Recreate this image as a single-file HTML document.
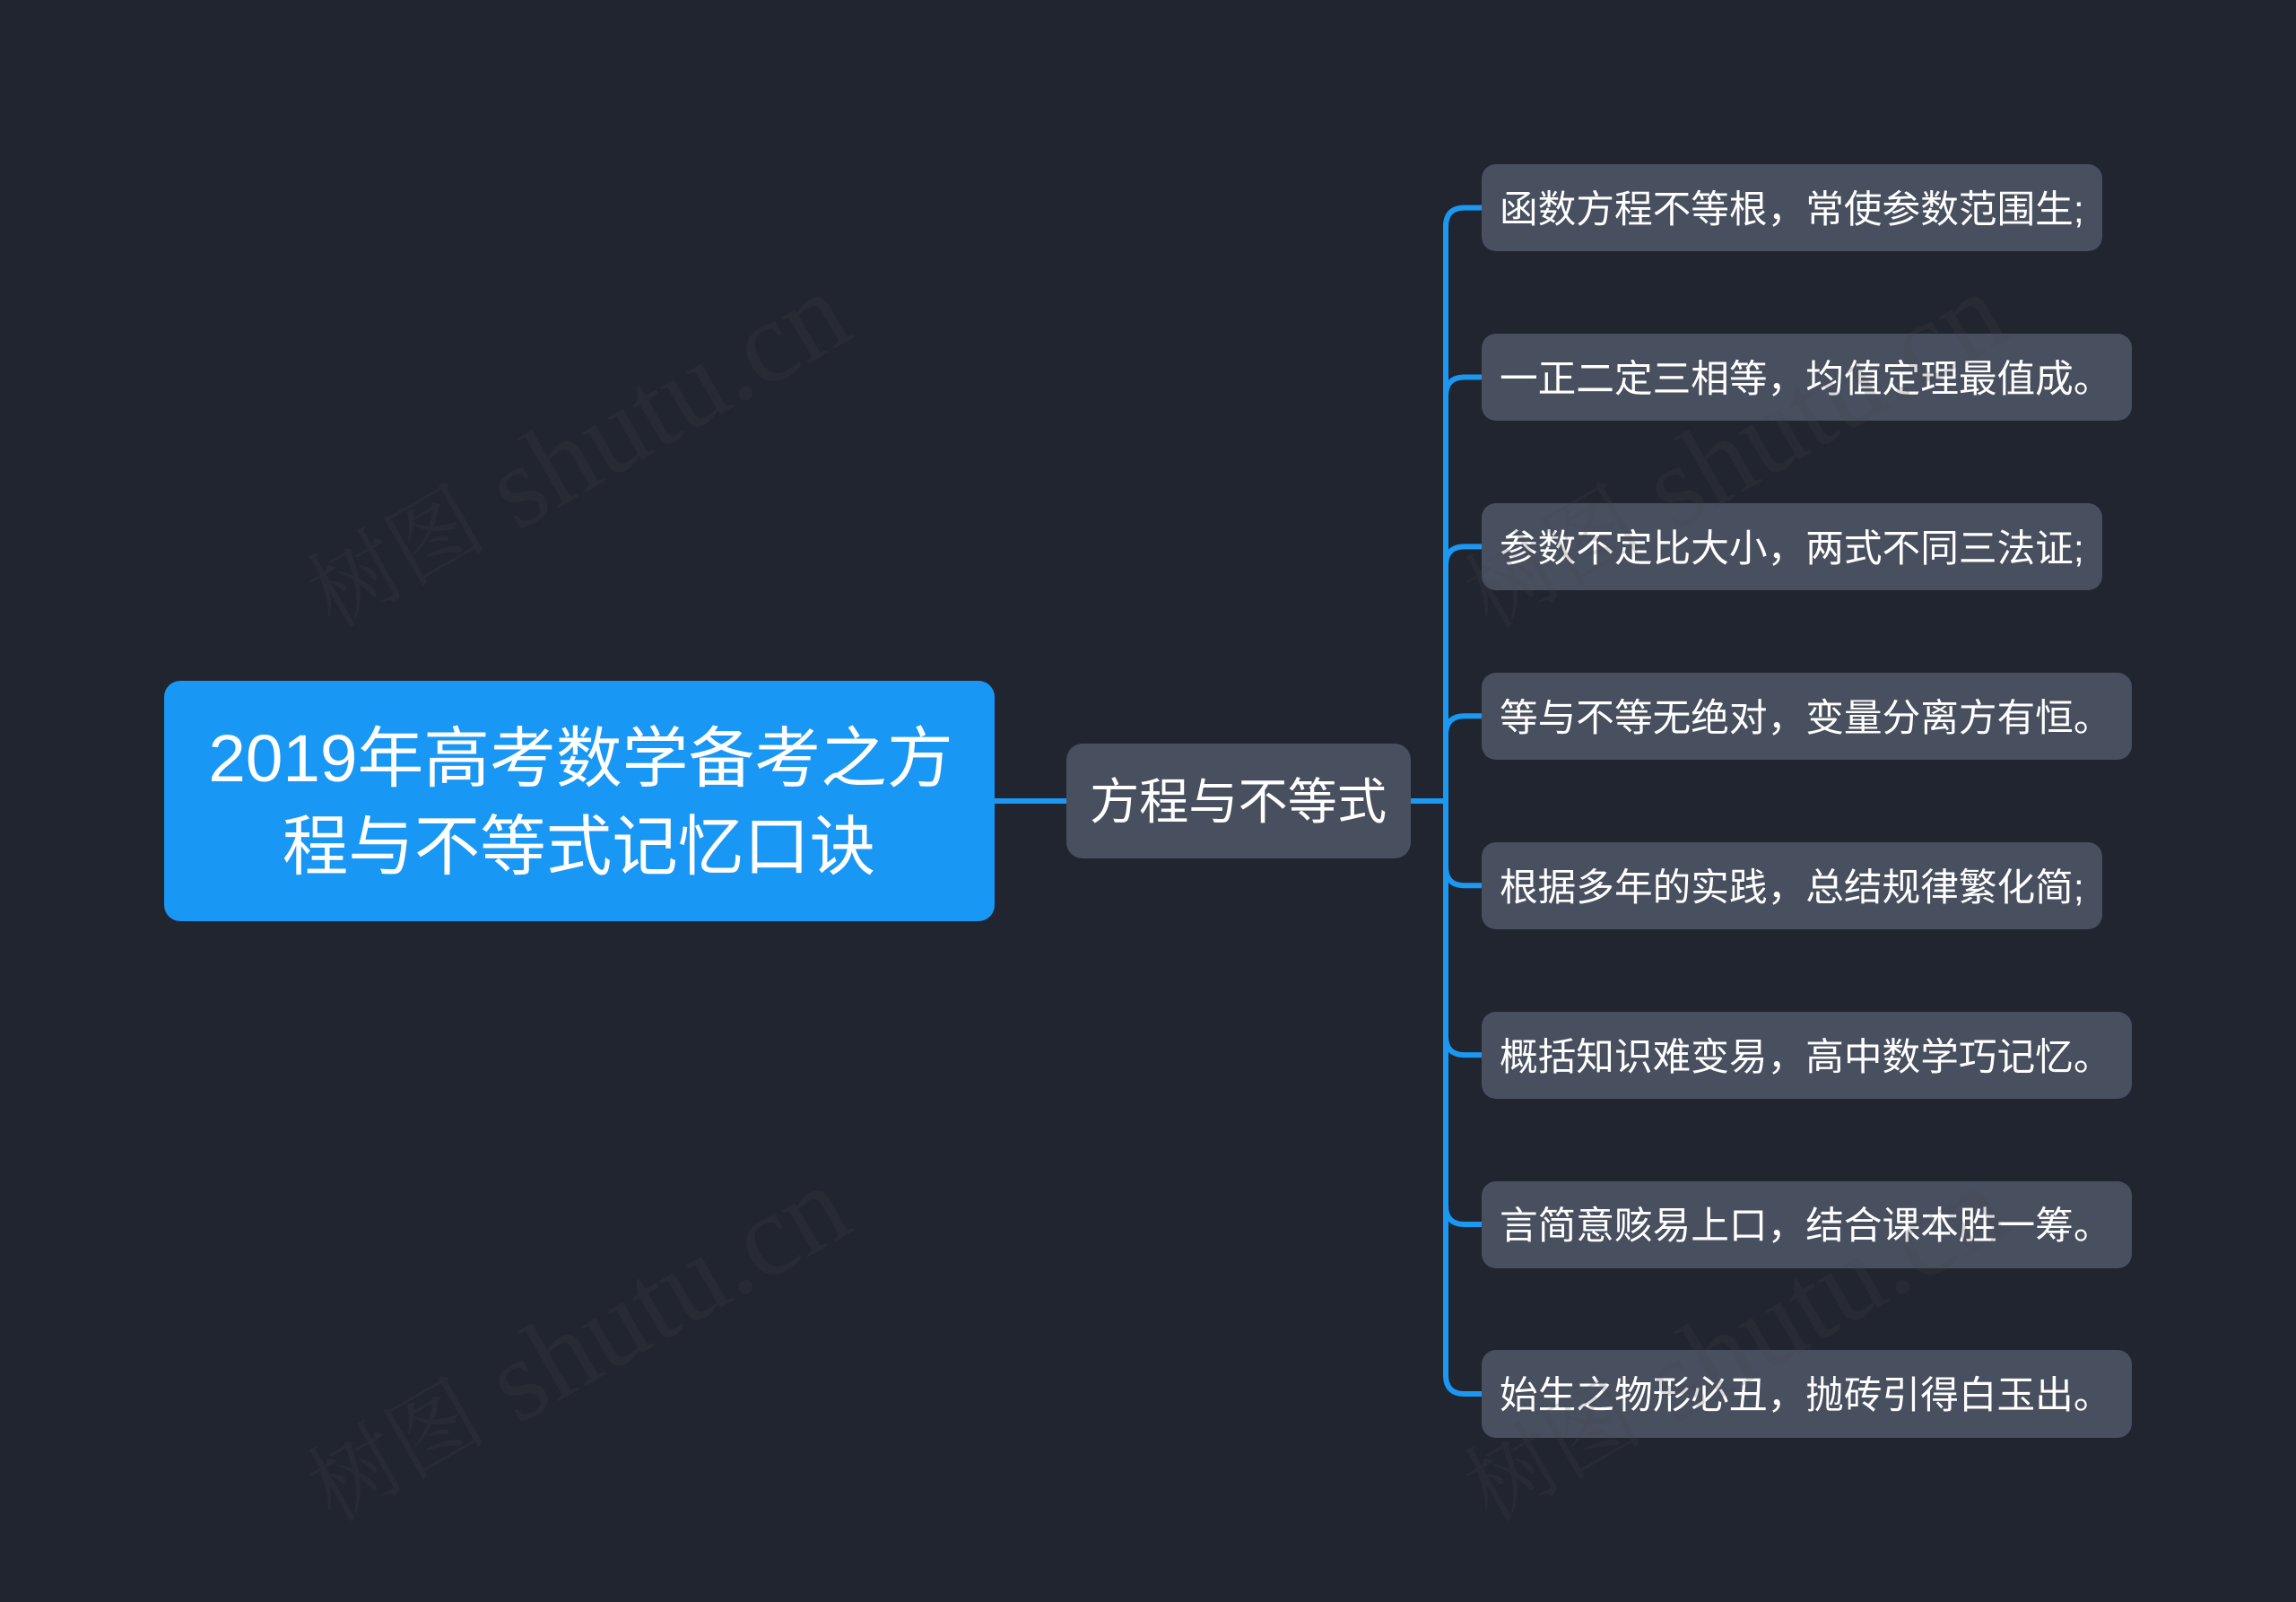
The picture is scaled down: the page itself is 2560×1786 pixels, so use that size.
<!DOCTYPE html>
<html><head><meta charset="utf-8"><style>
html,body{margin:0;padding:0;background:#212530;width:2560px;height:1786px;overflow:hidden}
svg{display:block}
text{font-family:"Liberation Sans","Noto Sans CJK SC",sans-serif;fill:#fff}
.c{font-size:42.67px}
.wm{font-family:"Liberation Serif","Noto Serif CJK SC",serif;fill:#474747;fill-opacity:.2}
</style></head><body>
<svg width="2560" height="1786" viewBox="0 0 2560 1786" xmlns="http://www.w3.org/2000/svg">
<rect width="2560" height="1786" fill="#212530"/>
<g fill="none" stroke="#1a98f2" stroke-width="6">
<path d="M1109 893H1189"/>
<path d="M1573 893H1612"/>
<path d="M1652 231.6H1633Q1612 231.6 1612 252.6V1533Q1612 1554 1633 1554H1652"/>
<path d="M1652 420.5H1633Q1612 420.5 1612 441.5"/>
<path d="M1652 609.4H1633Q1612 609.4 1612 630.4"/>
<path d="M1652 798.3H1633Q1612 798.3 1612 819.3"/>
<path d="M1652 987.2H1633Q1612 987.2 1612 966.2"/>
<path d="M1652 1176.1H1633Q1612 1176.1 1612 1155.1"/>
<path d="M1652 1365H1633Q1612 1365 1612 1344"/>
</g>
<rect x="183" y="759" width="926" height="268" rx="18" fill="#1997f4"/>
<text x="647.5" y="871" text-anchor="middle"><tspan font-size="74.67">2019</tspan><tspan font-size="73.8">年高考数学备考之方</tspan></text>
<text x="645.5" y="969" font-size="73.5" text-anchor="middle">程与不等式记忆口诀</text>
<rect x="1189" y="829" width="384" height="128" rx="18" fill="#484f5f"/>
<text x="1380.5" y="913" font-size="55.2" text-anchor="middle">方程与不等式</text>
<g fill="#484f5f">
<rect x="1652" y="183" width="692" height="97" rx="16"/>
<rect x="1652" y="372" width="725" height="97" rx="16"/>
<rect x="1652" y="561" width="692" height="97" rx="16"/>
<rect x="1652" y="750" width="725" height="97" rx="16"/>
<rect x="1652" y="939" width="692" height="97" rx="16"/>
<rect x="1652" y="1128" width="725" height="97" rx="16"/>
<rect x="1652" y="1317" width="725" height="97" rx="16"/>
<rect x="1652" y="1505" width="725" height="98" rx="16"/>
</g>
<text class="c" x="1672" y="248">函数方程不等根，常使参数范围生;</text>
<text class="c" x="1672" y="437">一正二定三相等，均值定理最值成。</text>
<text class="c" x="1672" y="626">参数不定比大小，两式不同三法证;</text>
<text class="c" x="1672" y="815">等与不等无绝对，变量分离方有恒。</text>
<text class="c" x="1672" y="1004">根据多年的实践，总结规律繁化简;</text>
<text class="c" x="1672" y="1193">概括知识难变易，高中数学巧记忆。</text>
<text class="c" x="1672" y="1381">言简意赅易上口，结合课本胜一筹。</text>
<text class="c" x="1672" y="1570">始生之物形必丑，抛砖引得白玉出。</text>
<text class="wm" transform="translate(371.5,702) rotate(-30)"><tspan font-size="100">树图</tspan><tspan font-size="130" dx="32" dy="8">shutu.cn</tspan></text>
<text class="wm" transform="translate(1661.5,702) rotate(-30)"><tspan font-size="100">树图</tspan><tspan font-size="130" dx="32" dy="8">shutu.cn</tspan></text>
<text class="wm" transform="translate(371.5,1698) rotate(-30)"><tspan font-size="100">树图</tspan><tspan font-size="130" dx="32" dy="8">shutu.cn</tspan></text>
<text class="wm" transform="translate(1661.5,1698) rotate(-30)"><tspan font-size="100">树图</tspan><tspan font-size="130" dx="32" dy="8">shutu.cn</tspan></text>
</svg>
</body></html>
